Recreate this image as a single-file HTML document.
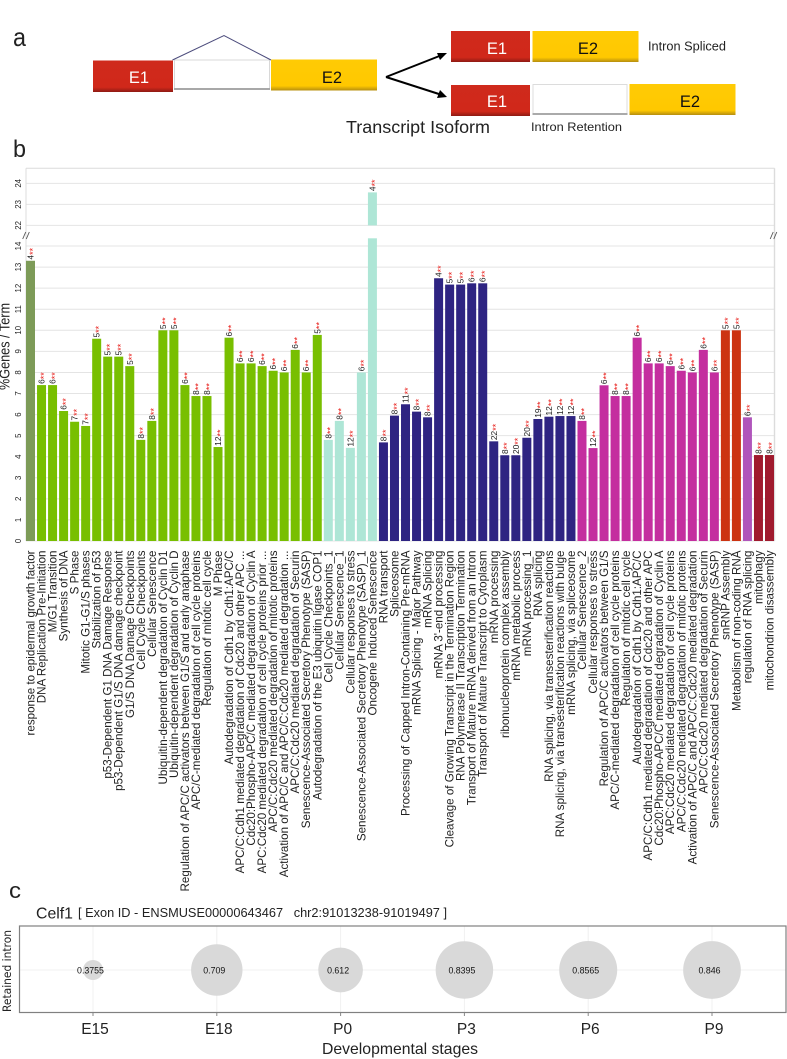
<!DOCTYPE html>
<html>
<head>
<meta charset="utf-8">
<title>Transcript isoform figure</title>
<style>
html,body{margin:0;padding:0;background:#fff;}
svg{display:block;font-family:"Liberation Sans",Arial,sans-serif;}
</style>
</head>
<body>
<svg id="fig" xmlns="http://www.w3.org/2000/svg" width="787" height="1059" viewBox="0 0 787 1059">
  <defs>
    <linearGradient id="redG" x1="0" y1="0" x2="0" y2="1"><stop offset="0" stop-color="#cf2a1c"/><stop offset="0.85" stop-color="#d0281a"/><stop offset="1" stop-color="#8e1a14"/></linearGradient>
    <linearGradient id="yelG" x1="0" y1="0" x2="0" y2="1"><stop offset="0" stop-color="#ffcb05"/><stop offset="0.85" stop-color="#ffc800"/><stop offset="1" stop-color="#b58e10"/></linearGradient>
  </defs>

  <g id="panel-a">
    <text x="13" y="46" font-size="26" textLength="13" lengthAdjust="spacingAndGlyphs" fill="#222">a</text>
    <rect x="93" y="60.5" width="80" height="31.5" fill="url(#redG)"/>
    <rect x="174.5" y="60" width="95" height="29" fill="#fff" stroke="#d8d8d8" stroke-width="1"/>
    <rect x="174" y="88" width="96" height="2" fill="#a8a8a8"/>
    <rect x="271" y="59.5" width="106" height="31" fill="url(#yelG)"/>
    <polyline points="172.5,60 224,35.5 271,60" fill="none" stroke="#4c4c7c" stroke-width="1"/>
    <text x="139" y="83" font-size="16.5" fill="#fff" text-anchor="middle">E1</text>
    <text x="332" y="83" font-size="16.5" fill="#111" text-anchor="middle">E2</text>

    <line x1="386" y1="77" x2="442" y2="55" stroke="#000" stroke-width="2"/>
    <polygon points="447,53 437,53 440,60" fill="#000"/>
    <line x1="386" y1="77" x2="442" y2="95" stroke="#000" stroke-width="2"/>
    <polygon points="447,97 440,90 437,98" fill="#000"/>

    <rect x="451" y="31" width="79" height="31" fill="url(#redG)"/>
    <rect x="532.5" y="31" width="106" height="31" fill="url(#yelG)"/>
    <text x="497" y="54" font-size="16.5" fill="#fff" text-anchor="middle">E1</text>
    <text x="588" y="54" font-size="16.5" fill="#111" text-anchor="middle">E2</text>
    <text x="648" y="50.5" font-size="12.5" textLength="78" lengthAdjust="spacingAndGlyphs" fill="#222">Intron Spliced</text>

    <rect x="451" y="85" width="79" height="31" fill="url(#redG)"/>
    <rect x="533" y="84.5" width="94" height="29.5" fill="#fff" stroke="#dcdcdc" stroke-width="1"/>
    <rect x="532.5" y="113" width="95" height="2" fill="#aaa"/>
    <rect x="629.5" y="84" width="106" height="31" fill="url(#yelG)"/>
    <text x="497" y="107" font-size="16.5" fill="#fff" text-anchor="middle">E1</text>
    <text x="690" y="107" font-size="16.5" fill="#111" text-anchor="middle">E2</text>
    <text x="346" y="133" font-size="17.5" textLength="144" lengthAdjust="spacingAndGlyphs" fill="#222">Transcript Isoform</text>
    <text x="531" y="131" font-size="12" textLength="91" lengthAdjust="spacingAndGlyphs" fill="#222">Intron Retention</text>
  </g>

  <text x="13" y="157" font-size="24" textLength="13" lengthAdjust="spacingAndGlyphs" fill="#222">b</text>
  <g id="panel-b"></g>

  <text x="9" y="898" font-size="22" textLength="12" lengthAdjust="spacingAndGlyphs" fill="#222">c</text>
  <text x="36" y="918.5" font-size="16" textLength="37" lengthAdjust="spacingAndGlyphs" fill="#222">Celf1</text>
  <text x="78" y="917" font-size="12.5" textLength="369" lengthAdjust="spacingAndGlyphs" fill="#222" xml:space="preserve">[ Exon ID - ENSMUSE00000643467   chr2:91013238-91019497 ]</text>
  <g id="panel-c"></g>
</svg>

<script>
var categories = [
"response to epidermal growth factor","DNA Replication Pre-Initiation","M/G1 Transition","Synthesis of DNA","S Phase","Mitotic G1-G1/S phases","Stabilization of p53","p53-Dependent G1 DNA Damage Response","p53-Dependent G1/S DNA damage checkpoint","G1/S DNA Damage Checkpoints","Cell Cycle Checkpoints","Cellular Senescence","Ubiquitin-dependent degradation of Cyclin D1","Ubiquitin-dependent degradation of Cyclin D","Regulation of APC/C activators between G1/S and early anaphase","APC/C-mediated degradation of cell cycle proteins","Regulation of mitotic cell cycle","M Phase","Autodegradation of Cdh1 by Cdh1:APC/C","APC/C:Cdh1 mediated degradation of Cdc20 and other APC ...","Cdc20:Phospho-APC/C mediated degradation of Cyclin A","APC:Cdc20 mediated degradation of cell cycle proteins prior ...","APC/C:Cdc20 mediated degradation of mitotic proteins","Activation of APC/C and APC/C:Cdc20 mediated degradation ...","APC/C:Cdc20 mediated degradation of Securin","Senescence-Associated Secretory Phenotype (SASP)","Autodegradation of the E3 ubiquitin ligase COP1",
"Cell Cycle Checkpoints_1","Cellular Senescence_1","Cellular responses to stress","Senescence-Associated Secretory Phenotype (SASP)_1","Oncogene Induced Senescence",
"RNA transport","Spliceosome","Processing of Capped Intron-Containing Pre-mRNA","mRNA Splicing - Major Pathway","mRNA Splicing","mRNA 3'-end processing","Cleavage of Growing Transcript in the Termination Region","RNA Polymerase II Transcription Termination","Transport of Mature mRNA derived from an Intron","Transport of Mature Transcript to Cytoplasm","mRNA processing","ribonucleoprotein complex assembly","mRNA metabolic process","mRNA processing_1","RNA splicing","RNA splicing, via transesterification reactions","RNA splicing, via transesterification reactions with bulge","mRNA splicing, via spliceosome",
"Cellular Senescence_2","Cellular responses to stress","Regulation of APC/C activators between G1/S","APC/C-mediated degradation of cell cycle proteins","Regulation of mitotic cell cycle","Autodegradation of Cdh1 by Cdh1:APC/C","APC/C:Cdh1 mediated degradation of Cdc20 and other APC","Cdc20:Phospho-APC/C mediated degradation of Cyclin A","APC:Cdc20 mediated degradation of cell cycle proteins","APC/C:Cdc20 mediated degradation of mitotic proteins","Activation of APC/C and APC/C:Cdc20 mediated degradation","APC/C:Cdc20 mediated degradation of Securin","Senescence-Associated Secretory Phenotype (SASP)",
"snRNP Assembly","Metabolism of non-coding RNA","regulation of RNA splicing","mitophagy","mitochondrion disassembly"];

var genePercent = [
13.3,7.4,7.4,6.17,5.66,5.46,9.6,8.75,8.75,8.3,4.8,5.7,10,10,7.4,6.88,6.88,4.46,9.65,8.43,8.43,8.3,8.08,8,9.07,8,9.78,
4.8,5.7,4.42,8,23.57,
4.68,5.95,6.49,6.14,5.87,12.47,12.17,12.17,12.23,12.23,4.73,4.07,4.07,4.9,5.79,5.9,5.93,5.93,
5.7,4.41,7.39,6.88,6.88,9.65,8.43,8.43,8.3,8.08,8,9.07,8,
10,10,5.87,4.08,4.08];

var geneCounts = [
4,6,6,6,7,7,5,5,5,5,8,8,5,5,6,8,8,12,6,6,6,6,6,6,6,6,5,
8,8,12,6,4,
8,8,11,8,8,4,5,5,6,6,22,8,20,20,19,12,12,12,
8,12,6,8,8,6,6,6,6,6,6,6,6,
5,5,6,8,8];

var barGroups = [
0,1,1,1,1,1,1,1,1,1,1,1,1,1,1,1,1,1,1,1,1,1,1,1,1,1,1,
2,2,2,2,2,
3,3,3,3,3,3,3,3,3,3,3,3,3,3,3,3,3,3,
4,4,4,4,4,4,4,4,4,4,4,4,4,
5,5,6,7,7];

var yTickValues = [0,1,2,3,4,5,6,7,8,9,10,11,12,13,14,22,23,24];

var stageLabels = ["E15","E18","P0","P3","P6","P9"];
var stageValues = [0.3755,0.709,0.612,0.8395,0.8565,0.846];
var stageValueLabels = ["0.3755","0.709","0.612","0.8395","0.8565","0.846"];

var groupColors = ["#7d9b58","#78bf00","#aee6d6","#2e2482","#c42e9f","#cc3311","#b055bb","#a01a2e"];

var NS = "http://www.w3.org/2000/svg";
function mk(tag, attrs, parent, txt){
  var e = document.createElementNS(NS, tag);
  for (var k in attrs) e.setAttribute(k, attrs[k]);
  if (txt !== undefined) e.textContent = txt;
  parent.appendChild(e);
  return e;
}

/* ---------- panel b ---------- */
var plotLeft = 26, plotRight = 774.5, plotTop = 168.3, baseY = 541;
var breakLow = 14, breakHigh = 22, breakTopY = 225.4, breakBottomY = 238.3;
function yScale(v){
  return v <= breakLow ? baseY - 21.07 * v : breakTopY - 21.03 * (v - breakHigh);
}
function xCenter(i){
  return 30.5 + i * (739 / (categories.length - 1));
}
var pb = document.getElementById("panel-b");

yTickValues.forEach(function(t){
  var y = yScale(t);
  var g = mk("line", {x1:plotLeft, x2:plotRight, y1:y, y2:y, stroke:"#e4e4e4", "stroke-width":1}, pb);
  
  
  var l = mk("text", {"font-size":7.8, fill:"#222", "text-anchor":"middle", transform:"translate(21.2,"+y+") rotate(-90)"}, pb, String(t));
  
  
});

var topLine = mk("line", {x1:plotLeft, x2:plotRight, y1:plotTop, y2:plotTop, stroke:"#dcdcdc", "stroke-width":1}, pb);


var rightLine = mk("line", {x1:plotRight, x2:plotRight, y1:plotTop, y2:baseY, stroke:"#dcdcdc", "stroke-width":1.4}, pb);


var leftLine = mk("line", {x1:plotLeft, x2:plotLeft, y1:plotTop, y2:baseY, stroke:"#dcdcdc", "stroke-width":1}, pb);



[[plotLeft, "left"], [plotRight - 1, "right"]].forEach(function(m){
  [-1.8, 1.8].forEach(function(off){
    var s = mk("line", {x1:m[0] + off - 1.5, y1:239, x2:m[0] + off + 1.5, y2:232, stroke:"#555", "stroke-width":0.9}, pb);
    
    
  });
});

var ttl = mk("text", {"font-size":14.5, fill:"#222", "text-anchor":"middle", textLength:87, lengthAdjust:"spacingAndGlyphs", transform:"translate(9.5,346.5) rotate(-90)"}, pb, "%Genes / Term");



categories.forEach(function(name, i){
  var v = genePercent[i], cx = xCenter(i), top = yScale(v), col = groupColors[barGroups[i]];
  var barW = 9;
  if (v > breakLow) {
    var b1 = mk("rect", {x:cx - barW/2, y:breakBottomY, width:barW, height:baseY - breakBottomY, fill:col}, pb);
    
    
    var b2 = mk("rect", {x:cx - barW/2, y:top, width:barW, height:breakTopY - top, fill:col}, pb);
    
    
  } else {
    var b = mk("rect", {x:cx - barW/2, y:top, width:barW, height:baseY - top, fill:col}, pb);
    
    
  }
  var c = mk("text", {"font-size":8.4, fill:"#222", transform:"translate("+(cx + 3)+","+(top - 1.2)+") rotate(-90)"}, pb);
  
  
  mk("tspan", {}, c, String(geneCounts[i]));
  mk("tspan", {fill:"#e8201c", "font-size":9, dy:2.4}, c, "**");

  var lab = mk("text", {"font-size":11.6, fill:"#222", "text-anchor":"end", transform:"translate("+(cx + 4)+",550.5) rotate(-90)"}, pb, name);
  
  
});

/* ---------- panel c ---------- */
var pc = document.getElementById("panel-c");
var boxL = 19.5, boxR = 786, boxT = 926, boxB = 1012.5, bubbleY = 970;
function stageX(i){ return 93 + i * 123.8; }
function bubbleR(v){
  return 10 + 47.1 * (v - 0.3755) - 51.4 * (v - 0.3755) * (v - 0.709);
}
var hGrid = mk("line", {x1:boxL, x2:boxR, y1:bubbleY, y2:bubbleY, stroke:"#f0f0f0", "stroke-width":1}, pc);



stageLabels.forEach(function(s, i){
  var x = stageX(i);
  var vg = mk("line", {x1:x, x2:x, y1:boxT, y2:boxB, stroke:"#f0f0f0", "stroke-width":1}, pc);
  
  
  var tk = mk("line", {x1:x, x2:x, y1:boxB, y2:boxB + 3.5, stroke:"#888", "stroke-width":1}, pc);
  
  
  var r = bubbleR(stageValues[i]);
  var bub = mk("circle", {cx:x, cy:bubbleY, r:r, fill:"#d9d9d9"}, pc);
  
  
  var vt = mk("text", {x:x - 2.5, y:973.3, "font-size":8.8, fill:"#111", "text-anchor":"middle"}, pc, stageValueLabels[i]);
  
  
  var xl = mk("text", {x:x + 2, y:1034, "font-size":15.5, fill:"#222", "text-anchor":"middle"}, pc, s);
  
  
});

var box = mk("rect", {x:boxL, y:boxT, width:boxR - boxL, height:boxB - boxT, fill:"none", stroke:"#808080", "stroke-width":1.2}, pc);



var xt = mk("text", {x:322, y:1054, "font-size":16, fill:"#222", textLength:156, lengthAdjust:"spacingAndGlyphs"}, pc, "Developmental stages");



var yt = mk("text", {"font-size":11.5, fill:"#222", "font-family":"DejaVu Sans, sans-serif", textLength:82, lengthAdjust:"spacingAndGlyphs", transform:"translate(11,1012) rotate(-90)"}, pc, "Retained intron");


</script>
</body>
</html>
